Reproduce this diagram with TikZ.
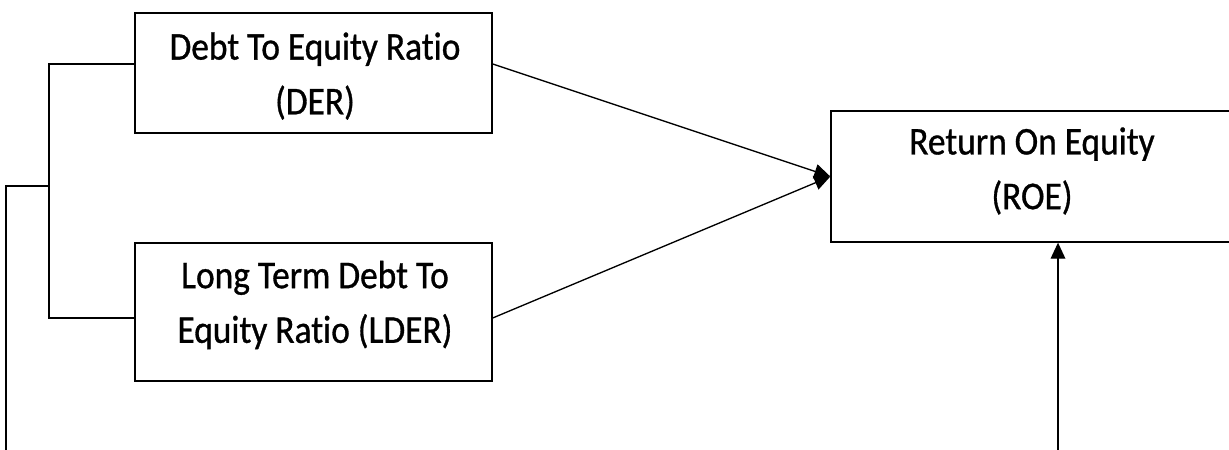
\documentclass[tikz,border=0pt]{standalone}
\usepackage{fontspec}
\setmainfont{Carlito}[FakeStretch=0.9,FakeBold=0.8,Ligatures=NoCommon]
\usetikzlibrary{arrows.meta}
\begin{document}
\begin{tikzpicture}[x=0.75pt,y=-0.75pt,
  box/.style={draw,line width=1pt,minimum width=267.75pt,inner sep=0pt},
  lbl/.style={align=center,inner sep=0pt,font=\fontsize{29.5}{41}\selectfont},
  conn/.style={line width=1pt},
  tip/.style={-{Triangle[length=12pt,width=11pt]}}]
\useasboundingbox (0,0) rectangle (1229,450);
\node[box,minimum height=90pt] (DER) at (313.5,73) {};
\node[box,minimum height=103.5pt] (LDER) at (313.5,312) {};
\node[draw,line width=1pt,minimum width=301.5pt,minimum height=98.25pt,inner sep=0pt] (ROE) at (1032,176.5) {};
\node[lbl] (tDER) at (315,76) {Debt To Equity Ratio\\(DER)};
\node[lbl] (tLDER) at (315,305) {Long Term Debt To\\Equity Ratio (LDER)};
\node[lbl] (tROE) at (1032,171) {Return On Equity\\(ROE)};
\coordinate (bracket) at (49,186);
\coordinate (leftend) at (6,455);
\coordinate (roeend) at (1058,455);
\draw[conn] ([yshift=6.75pt]DER.west) -| (bracket) |- ([yshift=-4.5pt]LDER.west);
\draw[conn] (bracket) -| (leftend);
\draw[conn,tip] ([yshift=6.75pt]DER.east) -- (ROE.west);
\draw[conn,tip] ([yshift=-4.5pt]LDER.east) -- (ROE.west);
\draw[conn,tip] (roeend) -- (roeend |- ROE.south);
\end{tikzpicture}
\end{document}
